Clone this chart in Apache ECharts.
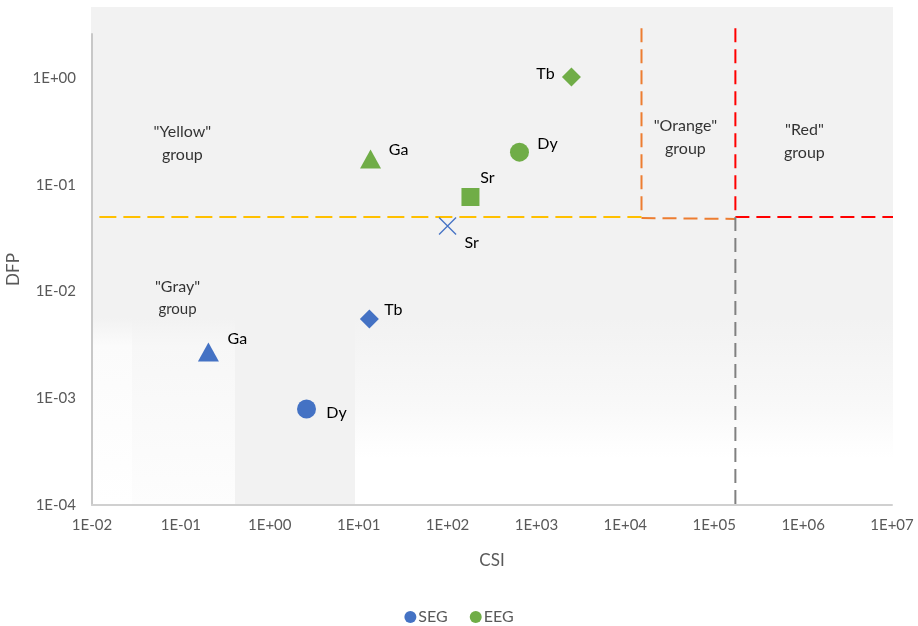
<!DOCTYPE html>
<html>
<head>
<meta charset="utf-8">
<script src="https://cdn.jsdelivr.net/npm/echarts@6/dist/echarts.min.js"></script>
<style>
  html, body { margin: 0; padding: 0; background: #fff; }
  #chart { width: 918px; height: 626px; }
</style>
</head>
<body>
<div id="chart"></div>
<script>
// element names per group
var segNames = ['Ga', 'Dy', 'Tb', 'Sr'];
var segCSI = [0.204, 2.59, 13.2, 100];
var segDFP = [0.00272, 0.000794, 0.00553, 0.0412];

var eegNames = ['Ga', 'Sr', 'Dy', 'Tb'];
var eegCSI = [13.6, 181, 644, 2477];
var eegDFP = [0.175, 0.0771, 0.203, 1.026];

// group thresholds
var dfpLimit = 0.05;
var csiOrange = 1.52e4;
var csiRed = 1.73e5;

// group captions (text, csi, dfp)
var groupText = ['"Yellow"\ngroup', '"Gray"\n{s|group}', '"Orange"\ngroup', '"Red"\ngroup'];
var groupCSI = [0.104, 0.0916, 4.74e4, 1.035e6];
var groupDFP = [0.247, 0.00871, 0.281, 0.258];

var BLUE = '#4472C4', GREEN = '#70AD47';
var FONT = 'Lato';

var segSymbol = { Ga: 'triangle', Dy: 'circle', Tb: 'diamond', Sr: 'path://M0,0L10,10M10,0L0,10' };
var eegSymbol = { Ga: 'triangle', Dy: 'circle', Tb: 'diamond', Sr: 'rect' };
var segOffset = { Ga: [29, -13], Dy: [30, 4], Tb: [24, -9], Sr: [24, 17] };
var eegOffset = { Ga: [28, -9], Sr: [17, -19], Dy: [28, -8], Tb: [-26, -3] };
var symSize = { triangle: [21, 19], circle: 19, diamond: 19, rect: 18 };

function fmtExp(v) {
  var l = Math.log10(v), e = Math.round(l);
  if (Math.abs(l - e) > 1e-6) return '';
  return '1E' + (e < 0 ? '-' : '+') + String(Math.abs(e)).padStart(2, '0');
}

function points(names, xs, ys, symbols, offsets, color) {
  return names.map(function (n, i) {
    var s = symbols[n];
    var p = {
      name: n,
      value: [xs[i], ys[i]],
      symbol: s,
      symbolSize: symSize[s] || 17,
      label: { offset: offsets[n] }
    };
    if (s.indexOf('path://') === 0) {
      p.itemStyle = { color: 'transparent', borderColor: color, borderWidth: 1.3 };
    }
    return p;
  });
}

function dashed(name, color, data, dash) {
  return {
    name: name,
    type: 'line',
    data: data,
    symbol: 'none',
    clip: false,
    silent: true,
    z: 1,
    lineStyle: { color: color, width: 2, type: dash || [14, 7] }
  };
}

var chart = echarts.init(document.getElementById('chart'));

chart.setOption({
  animation: false,
  backgroundColor: '#fff',
  textStyle: { fontFamily: FONT },
  graphic: [
    { type: 'rect', z: -10, shape: { x: 91, y: 7, width: 802, height: 498 }, style: { fill: '#F2F2F2' } },
    { type: 'rect', z: -9, shape: { x: 92, y: 318, width: 143, height: 187 },
      style: { fill: new echarts.graphic.LinearGradient(0, 0, 0, 1, [
        { offset: 0, color: '#F2F2F2' }, { offset: 0.15, color: '#F7F7F7' }, { offset: 1, color: '#FDFDFD' }]) } },
    { type: 'rect', z: -9, shape: { x: 92, y: 318, width: 40, height: 187 },
      style: { fill: new echarts.graphic.LinearGradient(0, 0, 0, 1, [
        { offset: 0, color: '#F2F2F2' }, { offset: 0.15, color: '#FBFBFB' }, { offset: 1, color: '#FFFFFF' }]) } },
    { type: 'rect', z: -9, shape: { x: 355, y: 318, width: 538, height: 187 },
      style: { fill: new echarts.graphic.LinearGradient(0, 0, 0, 1, [
        { offset: 0, color: '#F2F2F2' }, { offset: 0.5, color: '#F9F9F9' }, { offset: 0.75, color: '#FFFFFF' }, { offset: 1, color: '#FFFFFF' }]) } }
  ],
  grid: { left: 92, right: 26, top: 34, bottom: 121, outerBoundsMode: 'none' },
  legend: {
    top: 604,
    left: 'center',
    icon: 'circle',
    itemWidth: 12,
    itemHeight: 12,
    itemGap: 22,
    data: [
      { name: 'SEG', itemStyle: { color: BLUE } },
      { name: 'EEG', itemStyle: { color: GREEN } }
    ],
    textStyle: { fontFamily: FONT, fontSize: 16, color: '#595959', padding: [0, 0, 0, -3] }
  },
  xAxis: {
    type: 'log',
    logBase: 10,
    min: 0.01,
    max: 1e7,
    splitNumber: 9,
    name: 'CSI',
    nameLocation: 'middle',
    nameGap: 47,
    nameTextStyle: { fontFamily: FONT, fontSize: 17, color: '#595959' },
    axisLine: { lineStyle: { color: '#D0D0D0', width: 2 } },
    axisTick: { show: false },
    splitLine: { show: false },
    axisLabel: { formatter: fmtExp, fontFamily: FONT, fontSize: 15, color: '#595959', margin: 13,
      showMinLabel: true, showMaxLabel: true }
  },
  yAxis: {
    type: 'log',
    logBase: 10,
    min: 1e-4,
    max: 2.6,
    name: 'DFP',
    nameLocation: 'middle',
    nameGap: 70,
    nameTextStyle: { fontFamily: FONT, fontSize: 17, color: '#595959' },
    axisLine: { lineStyle: { color: '#C8C8C8', width: 2 } },
    axisTick: { show: false },
    splitLine: { show: false },
    axisLabel: { formatter: fmtExp, fontFamily: FONT, fontSize: 15, color: '#595959', margin: 16 }
  },
  series: [
    dashed('yellow', '#FFC000', [[0.0121, dfpLimit], [csiOrange, dfpLimit]], [17, 7]),
    dashed('orangeV', '#ED7D31', [[csiOrange, 2.95], [csiOrange, dfpLimit]]),
    dashed('orangeH', '#ED7D31', [[csiOrange, 0.049], [csiRed, 0.048]]),
    dashed('redV', '#FF0000', [[csiRed, 2.95], [csiRed, dfpLimit]]),
    dashed('redH', '#FF0000', [[csiRed, dfpLimit], [1.42e7, dfpLimit]]),
    dashed('grayV', '#808080', [[csiRed, dfpLimit], [csiRed, 1e-4]]),
    {
      name: 'groups',
      type: 'scatter',
      symbolSize: 0,
      silent: true,
      data: groupText.map(function (t, i) { return { name: t, value: [groupCSI[i], groupDFP[i]] }; }),
      label: {
        show: true,
        position: 'inside',
        formatter: '{b}',
        fontFamily: FONT,
        fontSize: 16,
        lineHeight: 23,
        color: '#000',
        rich: { s: { fontFamily: FONT, fontSize: 15, lineHeight: 23, color: '#000' } }
      }
    },
    {
      name: 'SEG',
      type: 'scatter',
      z: 3,
      itemStyle: { color: BLUE, opacity: 1 },
      data: points(segNames, segCSI, segDFP, segSymbol, segOffset, BLUE),
      label: { show: true, position: 'inside', formatter: '{b}', fontFamily: FONT, fontSize: 16, color: '#000' }
    },
    {
      name: 'EEG',
      type: 'scatter',
      z: 3,
      itemStyle: { color: GREEN, opacity: 1 },
      data: points(eegNames, eegCSI, eegDFP, eegSymbol, eegOffset, GREEN),
      label: { show: true, position: 'inside', formatter: '{b}', fontFamily: FONT, fontSize: 16, color: '#000' }
    }
  ]
});
</script>
</body>
</html>
